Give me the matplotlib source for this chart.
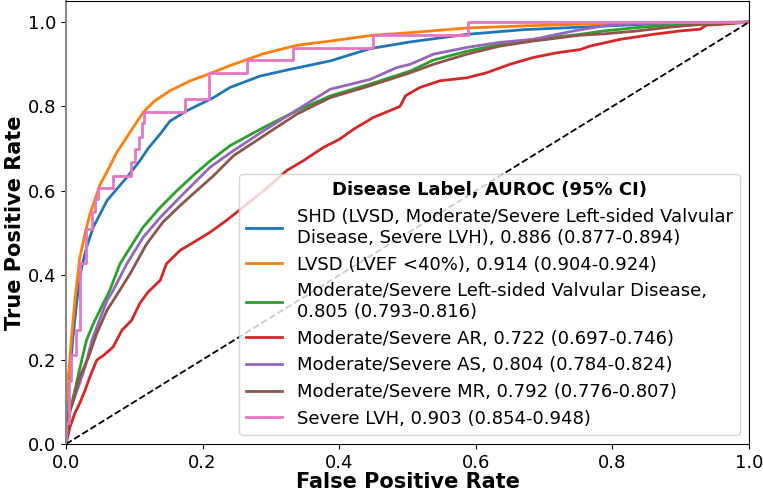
import matplotlib
matplotlib.use("Agg")
import matplotlib.pyplot as plt

# ROC points (fpr, tpr)
shd_fpr = [0, 0, 0.005, 0.010, 0.016, 0.023, 0.030, 0.040, 0.060, 0.089, 0.108, 0.120, 0.138, 0.152, 0.177, 0.216,
           0.240, 0.284, 0.328, 0.387, 0.445, 0.504, 0.587, 0.670, 0.753, 0.850, 1.0]
shd_tpr = [0, 0.05, 0.15, 0.25, 0.34, 0.42, 0.466, 0.514, 0.577, 0.632, 0.671, 0.700, 0.735, 0.765, 0.790, 0.821,
           0.845, 0.872, 0.888, 0.908, 0.937, 0.953, 0.971, 0.982, 0.988, 0.995, 1.0]

lvsd_fpr = [0, 0, 0.003, 0.008, 0.013, 0.020, 0.028, 0.035, 0.050, 0.060, 0.074, 0.099, 0.113, 0.128, 0.152, 0.182,
            0.211, 0.240, 0.289, 0.338, 0.387, 0.450, 0.504, 0.587, 0.670, 0.753, 0.850, 1.0]
lvsd_tpr = [0, 0.09, 0.15, 0.25, 0.34, 0.44, 0.50, 0.545, 0.615, 0.645, 0.69, 0.752, 0.786, 0.811, 0.837, 0.861,
            0.878, 0.897, 0.925, 0.945, 0.955, 0.969, 0.975, 0.986, 0.991, 0.995, 0.998, 1.0]

valv_fpr = [0, 0.006, 0.013, 0.023, 0.030, 0.040, 0.052, 0.064, 0.079, 0.094, 0.113, 0.138, 0.162, 0.186, 0.211,
            0.240, 0.289, 0.338, 0.387, 0.445, 0.504, 0.538, 0.587, 0.635, 0.684, 0.753, 0.787, 0.836, 0.884,
            0.958, 1.0]
valv_tpr = [0, 0.08, 0.128, 0.199, 0.246, 0.285, 0.325, 0.364, 0.427, 0.466, 0.514, 0.561, 0.600, 0.636, 0.671,
            0.707, 0.750, 0.790, 0.825, 0.853, 0.884, 0.910, 0.931, 0.947, 0.959, 0.971, 0.979, 0.987, 0.993,
            0.997, 1.0]

ar_fpr = [0, 0.006, 0.013, 0.020, 0.028, 0.035, 0.045, 0.055, 0.069, 0.082, 0.096, 0.108, 0.120, 0.138, 0.147,
          0.167, 0.191, 0.211, 0.235, 0.270, 0.300, 0.323, 0.347, 0.377, 0.401, 0.421, 0.450, 0.474, 0.489, 0.497,
          0.504, 0.518, 0.548, 0.587, 0.616, 0.650, 0.684, 0.718, 0.753, 0.767, 0.811, 0.860, 0.899, 0.928, 0.938,
          0.962, 1.0]
ar_tpr = [0, 0.041, 0.073, 0.096, 0.128, 0.159, 0.199, 0.210, 0.230, 0.270, 0.293, 0.333, 0.360, 0.388, 0.427,
          0.459, 0.482, 0.502, 0.530, 0.575, 0.615, 0.648, 0.671, 0.703, 0.723, 0.746, 0.774, 0.790, 0.800, 0.825,
          0.832, 0.845, 0.861, 0.868, 0.880, 0.900, 0.916, 0.927, 0.935, 0.943, 0.959, 0.971, 0.979, 0.983, 0.993,
          0.995, 1.0]

as_fpr = [0, 0.004, 0.011, 0.020, 0.028, 0.038, 0.047, 0.060, 0.069, 0.089, 0.113, 0.138, 0.162, 0.186, 0.211,
          0.243, 0.289, 0.338, 0.387, 0.445, 0.484, 0.504, 0.538, 0.587, 0.635, 0.684, 0.743, 0.787, 0.836, 1.0]
as_tpr = [0, 0.07, 0.104, 0.144, 0.183, 0.246, 0.285, 0.340, 0.364, 0.427, 0.490, 0.537, 0.577, 0.616, 0.656,
          0.693, 0.742, 0.792, 0.841, 0.864, 0.892, 0.900, 0.924, 0.940, 0.952, 0.959, 0.979, 0.991, 0.997, 1.0]

mr_fpr = [0, 0.004, 0.011, 0.020, 0.033, 0.045, 0.060, 0.077, 0.094, 0.118, 0.142, 0.167, 0.191, 0.216, 0.245,
          0.289, 0.338, 0.387, 0.445, 0.504, 0.538, 0.587, 0.635, 0.684, 0.753, 0.787, 0.836, 0.884, 0.933, 1.0]
mr_tpr = [0, 0.07, 0.104, 0.159, 0.206, 0.262, 0.317, 0.360, 0.404, 0.474, 0.526, 0.565, 0.600, 0.636, 0.683,
          0.730, 0.782, 0.821, 0.849, 0.880, 0.900, 0.924, 0.943, 0.955, 0.969, 0.972, 0.979, 0.988, 0.995, 1.0]

lvh_fpr = [0, 0, 0.004, 0.004, 0.008, 0.008, 0.015, 0.015, 0.020, 0.020, 0.030, 0.030, 0.038, 0.038, 0.042, 0.042,
           0.047, 0.047, 0.069, 0.069, 0.095, 0.095, 0.101, 0.101, 0.107, 0.107, 0.111, 0.111, 0.114, 0.114,
           0.174, 0.174, 0.209, 0.209, 0.265, 0.265, 0.333, 0.333, 0.450, 0.450, 0.589, 0.589, 1.0]
lvh_tpr = [0, 0.05, 0.05, 0.15, 0.15, 0.21, 0.21, 0.27, 0.27, 0.43, 0.43, 0.51, 0.51, 0.55, 0.55, 0.58,
           0.58, 0.607, 0.607, 0.636, 0.636, 0.668, 0.668, 0.70, 0.70, 0.728, 0.728, 0.762, 0.762, 0.788,
           0.788, 0.818, 0.818, 0.879, 0.879, 0.909, 0.909, 0.939, 0.939, 0.970, 0.970, 1.0, 1.0]

labels = [
    "SHD (LVSD, Moderate/Severe Left-sided Valvular\nDisease, Severe LVH), 0.886 (0.877-0.894)",
    "LVSD (LVEF <40%), 0.914 (0.904-0.924)",
    "Moderate/Severe Left-sided Valvular Disease,\n0.805 (0.793-0.816)",
    "Moderate/Severe AR, 0.722 (0.697-0.746)",
    "Moderate/Severe AS, 0.804 (0.784-0.824)",
    "Moderate/Severe MR, 0.792 (0.776-0.807)",
    "Severe LVH, 0.903 (0.854-0.948)",
]

curves = [(shd_fpr, shd_tpr), (lvsd_fpr, lvsd_tpr), (valv_fpr, valv_tpr), (ar_fpr, ar_tpr),
          (as_fpr, as_tpr), (mr_fpr, mr_tpr), (lvh_fpr, lvh_tpr)]

fig, ax = plt.subplots(figsize=(7.63, 4.95), dpi=100)
fig.subplots_adjust(left=0.0865, right=0.9817, bottom=0.103, top=0.998)

for (fpr, tpr), lab in zip(curves, labels):
    ax.plot(fpr, tpr, lw=2, label=lab)
ax.plot([0, 1], [0, 1], 'k--', lw=1.3)

ax.set_xlim(0, 1.0)
ax.set_ylim(0, 1.05)
ax.set_xticks([0, 0.2, 0.4, 0.6, 0.8, 1.0])
ax.set_yticks([0, 0.2, 0.4, 0.6, 0.8, 1.0])
ax.tick_params(labelsize=13)
ax.set_xlabel('False Positive Rate', fontsize=15, fontweight='bold', labelpad=0)
ax.set_ylabel('True Positive Rate', fontsize=15, fontweight='bold', labelpad=2)
ax.spines['left'].set_color('#888888')
ax.spines['left'].set_linewidth(1.5)

leg = ax.legend(loc='lower right', fontsize=13, title='Disease Label, AUROC (95% CI)',
                title_fontproperties={'weight': 'bold', 'size': 13}, labelspacing=0.48)

fig.savefig('out.png', dpi=100)
